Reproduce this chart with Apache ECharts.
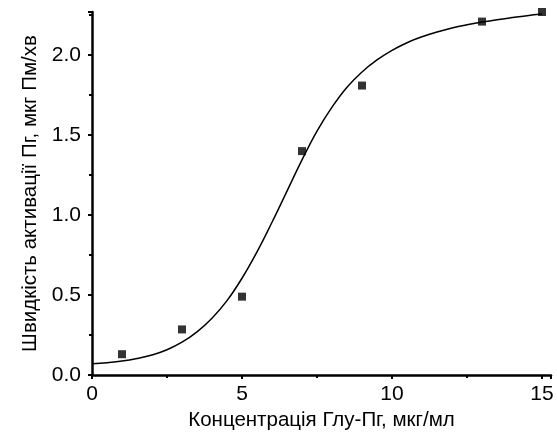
<!DOCTYPE html>
<html><head><meta charset="utf-8">
<script src="https://cdn.jsdelivr.net/npm/echarts@6/dist/echarts.min.js"></script>
<style>html,body{margin:0;padding:0;background:#fff}#c{width:557px;height:439px}</style>
</head><body><div id="c"></div>
<script>
// measured points
var pointX = [1, 3, 5, 7, 9, 13, 15];
var pointY = [0.13, 0.285, 0.49, 1.40, 1.81, 2.21, 2.27];
// fitted curve
var curveX = [0, 0.5, 1, 1.5, 2, 2.5, 3, 3.5, 4, 4.5, 5, 5.5, 6, 6.5, 7, 7.5, 8, 8.5, 9, 9.5, 10, 10.5, 11, 11.5, 12, 12.5, 13, 13.5, 14, 14.5, 15];
var curveY = [0.07, 0.077, 0.087, 0.103, 0.125, 0.158, 0.205, 0.27, 0.355, 0.465, 0.605, 0.77, 0.955, 1.15, 1.345, 1.525, 1.675, 1.80, 1.895, 1.97, 2.03, 2.078, 2.115, 2.145, 2.17, 2.19, 2.207, 2.222, 2.235, 2.247, 2.257];
var xTicks = [0, 5, 10, 15];
var yTicks = ['0.0', '0.5', '1.0', '1.5', '2.0'];
var xName = 'Концентрація Глу-Пг, мкг/мл';
var yName = 'Швидкість активації Пг, мкг Пм/хв';

var chart = echarts.init(document.getElementById('c'), null, {renderer: 'canvas'});
var font = 'Liberation Sans, Arial, sans-serif';
chart.setOption({
  animation: false,
  backgroundColor: '#fff',
  grid: {left: 92, right: 6, top: 12, bottom: 64},
  xAxis: {
    type: 'value', min: 0, max: 15.3, interval: 5,
    name: xName, nameLocation: 'middle', nameGap: 33,
    nameTextStyle: {color: '#000', fontSize: 20.5, fontFamily: font},
    axisLine: {show: true, lineStyle: {color: '#000', width: 2.5}},
    axisTick: {show: true, inside: false, length: 4, lineStyle: {color: '#000', width: 2}},
    minorTick: {show: true, splitNumber: 2, length: 3, lineStyle: {color: '#000', width: 2}},
    axisLabel: {color: '#000', fontSize: 21, fontFamily: font, margin: 9,
      formatter: function (v) { return xTicks.indexOf(v) >= 0 ? String(v) : ''; }},
    splitLine: {show: false}
  },
  yAxis: {
    type: 'value', min: 0, max: 2.27, interval: 0.5,
    name: yName, nameLocation: 'middle', nameGap: 48, nameRotate: 90,
    nameTextStyle: {color: '#000', fontSize: 20.5, fontFamily: font},
    axisLine: {show: true, lineStyle: {color: '#000', width: 2.5}},
    axisTick: {show: true, inside: false, length: 4, lineStyle: {color: '#000', width: 2}},
    minorTick: {show: true, splitNumber: 2, length: 3, lineStyle: {color: '#000', width: 2}},
    axisLabel: {color: '#000', fontSize: 21, fontFamily: font, margin: 11,
      formatter: function (v) { var i = Math.round(v / 0.5); return Math.abs(v - i * 0.5) < 1e-6 && yTicks[i] ? yTicks[i] : ''; }},
    splitLine: {show: false}
  },
  series: [
    {
      type: 'line', smooth: 0.4, symbol: 'none',
      data: curveX.map(function (x, i) { return [x, curveY[i]]; }),
      lineStyle: {color: '#000', width: 1.5}
    },
    {
      type: 'scatter', symbol: 'rect', symbolSize: 8,
      data: pointX.map(function (x, i) { return [x, pointY[i]]; }),
      itemStyle: {color: '#000'}
    }
  ]
});
</script></body></html>
